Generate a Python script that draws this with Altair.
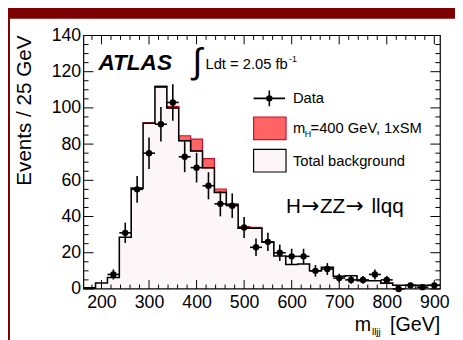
import altair as alt
import pandas as pd

# ---------------- data ----------------
bin_centers = [175, 200, 225, 250, 275, 300, 325, 350, 375, 400,
               425, 450, 475, 500, 525, 550, 575, 600, 625, 650,
               675, 700, 725, 750, 775, 800, 825, 850, 875, 900]
bg_counts = [0.6, 3.3, 6.3, 28.6, 55.7, 91.5, 111.6, 100.0, 81.9, 76.2,
             66.9, 53.3, 46.3, 33.5, 33.5, 25.8, 18.2, 13.5, 13.8, 10.0,
             12.0, 7.0, 7.3, 4.5, 4.5, 3.2, 2.0, 2.0, 2.0, 2.0]
sig_counts = [0, 0, 0, 0, 0, 0.3, 0.5, 0.8, 2.7, 6.6,
              5.1, 1.9, 0.7, 0.8, 0.5, 0.3, 0, 0, 0, 0,
              0, 0, 0, 0, 0, 0, 0, 0, 0, 0]

data_centers = [225, 250, 275, 300, 325, 350, 375, 400, 425, 450,
                475, 500, 525, 550, 575, 600, 625, 650, 675, 700,
                725, 750, 775, 800, 825, 850, 875, 900]
data_counts = [8, 31, 55, 75, 91, 103, 73, 67, 57, 47,
               46, 34, 23, 26, 20, 18, 18, 10, 11, 6,
               5, 5, 8, 5, 0, 2, 1, 2]
data_errors = [2.8, 5.6, 7.4, 8.7, 9.5, 10.1, 8.5, 8.2, 7.5, 6.9,
               6.8, 5.8, 4.8, 5.1, 4.5, 4.2, 4.2, 3.2, 3.3, 2.4,
               2.2, 2.2, 2.8, 2.2, 0, 1.4, 1.0, 1.4]

x_major = [200, 300, 400, 500, 600, 700, 800, 900]
x_minor = [180, 220, 240, 260, 280, 320, 340, 360, 380, 420,
           440, 460, 480, 520, 540, 560, 580, 620, 640, 660, 680,
           720, 740, 760, 780, 820, 840, 860, 880]
y_major = [0, 20, 40, 60, 80, 100, 120, 140]
y_minor = [5, 10, 15, 25, 30, 35, 45, 50, 55, 65, 70, 75, 85, 90, 95,
           105, 110, 115, 125, 130, 135]

HALF = 12.5  # half of the 25 GeV bin
X_DOMAIN = [162.5, 912.5]
Y_DOMAIN = [0, 140]

# ---------------- tables ----------------
hist = pd.DataFrame({"c": bin_centers, "bg": bg_counts, "sig": sig_counts})
hist["lo"] = hist["c"] - HALF
hist["hi"] = hist["c"] + HALF
hist["top"] = hist["bg"] + hist["sig"]
sig_df = hist[hist["sig"] > 0]

step = pd.DataFrame({
    "x": list(hist["lo"]) + [hist["hi"].iloc[-1]],
    "y": list(hist["bg"]) + [hist["bg"].iloc[-1]],
})

pts = pd.DataFrame({"c": data_centers, "n": data_counts, "e": data_errors})
pts["lo"] = pts["c"] - HALF
pts["hi"] = pts["c"] + HALF
pts["ylo"] = pts["n"] - pts["e"]
pts["yhi"] = pts["n"] + pts["e"]

one = pd.DataFrame({"a": [0]})

W, H = 363, 258
FONT = "Liberation Sans"
BG_FILL = "#fdf6f8"
SIG_FILL = "#ff6464"
SIG_EDGE = "#c8102e"

xs = alt.Scale(domain=X_DOMAIN, nice=False, zero=False)
ys = alt.Scale(domain=Y_DOMAIN, nice=False, zero=True)

x_axis = alt.Axis(values=x_major, ticks=False, domain=False, grid=False, title=None,
                  labelFont=FONT, labelFontSize=18, labelColor="black", labelPadding=5,
                  labelFlush=False, labelOverlap=False, zindex=1)
y_axis = alt.Axis(values=y_major, ticks=False, domain=False, grid=False, title=None,
                  labelFont=FONT, labelFontSize=18, labelColor="black", labelPadding=3,
                  labelFlush=False, labelOverlap=False, zindex=1)

white = alt.Chart(one).mark_rect(color="white").encode(
    x=alt.value(-75), x2=alt.value(W + 40), y=alt.value(-17), y2=alt.value(H + 60))

bg_area = alt.Chart(step).mark_area(interpolate="step-after", color=BG_FILL, opacity=1).encode(
    x=alt.X("x:Q", scale=xs, axis=x_axis),
    y=alt.Y("y:Q", scale=ys, axis=y_axis),
)

sig_rect = alt.Chart(sig_df).mark_rect(color=SIG_FILL, stroke=SIG_EDGE, strokeWidth=1.2, opacity=1).encode(
    x=alt.X("lo:Q", scale=xs, axis=None),
    x2="hi:Q",
    y=alt.Y("bg:Q", scale=ys, axis=None),
    y2="top:Q",
)

bg_line = alt.Chart(step).mark_line(interpolate="step-after", color="black", strokeWidth=1.6).encode(
    x=alt.X("x:Q", scale=xs, axis=None),
    y=alt.Y("y:Q", scale=ys, axis=None),
)

err_v = alt.Chart(pts).mark_rule(color="black", strokeWidth=1.6).encode(
    x=alt.X("c:Q", scale=xs, axis=None),
    y=alt.Y("ylo:Q", scale=ys, axis=None),
    y2="yhi:Q",
)

err_h = alt.Chart(pts).mark_rule(color="black", strokeWidth=1.6).encode(
    x=alt.X("lo:Q", scale=xs, axis=None),
    x2="hi:Q",
    y=alt.Y("n:Q", scale=ys, axis=None),
)

dots = alt.Chart(pts).mark_point(filled=True, shape="circle", size=42, color="black", opacity=1).encode(
    x=alt.X("c:Q", scale=xs, axis=None),
    y=alt.Y("n:Q", scale=ys, axis=None),
)


# inward ROOT-style ticks on all four sides
def xticks(values, y0, y1):
    return alt.Chart(pd.DataFrame({"v": values})).mark_rule(color="black", strokeWidth=1).encode(
        x=alt.X("v:Q", scale=xs, axis=None), y=alt.value(y0), y2=alt.value(y1))


def yticks(values, x0, x1):
    return alt.Chart(pd.DataFrame({"v": values})).mark_rule(color="black", strokeWidth=1).encode(
        y=alt.Y("v:Q", scale=ys, axis=None), x=alt.value(x0), x2=alt.value(x1))


tick_layers = [
    xticks(x_major, H, H - 9), xticks(x_minor, H, H - 4.5),
    xticks(x_major, 0, 9), xticks(x_minor, 0, 4.5),
    yticks(y_major, 0, 10), yticks(y_minor, 0, 5),
    yticks(y_major, W, W - 10), yticks(y_minor, W, W - 5),
]

frame = alt.Chart(one).mark_rect(fillOpacity=0, stroke="black", strokeWidth=1.2).encode(
    x=alt.value(0), x2=alt.value(W), y=alt.value(0), y2=alt.value(H))


def txt(s, x, y, size, align="left", baseline="alphabetic", font=FONT, **kw):
    return alt.Chart(one).mark_text(text=s, align=align, baseline=baseline, fontSize=size,
                                    font=font, color="black", **kw).encode(
        x=alt.value(x), y=alt.value(y))


# annotations
atlas = txt("ATLAS", 15, 35, 23, fontWeight="bold", fontStyle="italic")
integral = txt("\u222b", 116, 27, 36, align="center", baseline="middle")
lumi = txt("Ldt = 2.05 fb", 124, 34, 15)
lumi_sup = txt("-1", 209, 27, 9)
ch_H = txt("H", 206, 181, 21)
ch_a1 = txt("\u2192", 221.5, 181, 22, font="DejaVu Sans")
ch_ZZ = txt("ZZ", 240.5, 181, 21)
ch_a2 = txt("\u2192", 266.5, 181, 22, font="DejaVu Sans")
ch_llqq = txt("llqq", 293, 181, 21)

# legend
leg_h = alt.Chart(one).mark_rule(color="black", strokeWidth=1.6).encode(
    x=alt.value(173), x2=alt.value(205), y=alt.value(64))
leg_v = alt.Chart(one).mark_rule(color="black", strokeWidth=1.6).encode(
    x=alt.value(189), y=alt.value(56), y2=alt.value(72))
leg_dot = alt.Chart(one).mark_point(filled=True, shape="circle", size=42, color="black", opacity=1).encode(
    x=alt.value(189), y=alt.value(64))
leg_data = txt("Data", 213, 64, 15, baseline="middle")
leg_sig_box = alt.Chart(one).mark_rect(color=SIG_FILL, stroke=SIG_EDGE, strokeWidth=1.2, opacity=1).encode(
    x=alt.value(173), x2=alt.value(206), y=alt.value(83), y2=alt.value(106))
leg_sig_m = txt("m", 213, 99.5, 15)
leg_sig_H = txt("H", 225, 103, 9)
leg_sig_t = txt("=400 GeV, 1xSM", 231, 99.5, 15)
leg_bg_box = alt.Chart(one).mark_rect(color=BG_FILL, stroke="black", strokeWidth=1.2, opacity=1).encode(
    x=alt.value(173), x2=alt.value(206), y=alt.value(116), y2=alt.value(139))
leg_bg = txt("Total background", 213, 127.5, 15, baseline="middle")

# axis titles
ytitle = txt("Events / 25 GeV", -60, 0, 21, align="right", baseline="middle", angle=270)
xt_unit = txt("[GeV]", W, 301, 20, align="right")
xt_m = txt("m", 276, 301, 20)
xt_sub = txt("lljj", 293.5, 305, 10)

chart = alt.layer(
    white, bg_area, sig_rect, bg_line, err_v, err_h, dots, *tick_layers, frame,
    atlas, integral, lumi, lumi_sup, ch_H, ch_a1, ch_ZZ, ch_a2, ch_llqq,
    leg_h, leg_v, leg_dot, leg_data, leg_sig_box, leg_sig_m, leg_sig_H, leg_sig_t,
    leg_bg_box, leg_bg,
    ytitle, xt_unit, xt_m, xt_sub,
).resolve_axis(x="independent", y="independent").properties(
    width=W, height=H,
    padding={"left": 77, "top": 25, "right": 15, "bottom": 49},
    autosize=alt.AutoSizeParams(type="none"),
    background="#7d0000",
).configure_view(stroke=None)

chart.save("out.html", embed_options={"renderer": "svg", "actions": False})
